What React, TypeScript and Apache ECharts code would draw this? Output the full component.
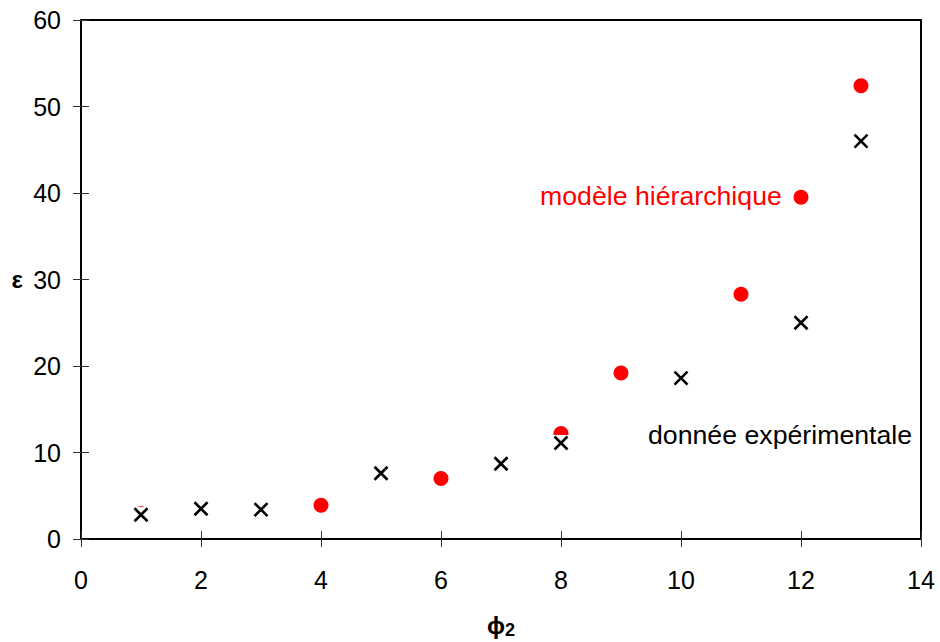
import React, { useEffect, useRef } from "react";
import * as echarts from "echarts";

const expX = [1, 2, 3, 5, 7, 8, 10, 12, 13];
const expY = [2.8, 3.5, 3.4, 7.6, 8.7, 11.1, 18.6, 25.0, 46.0];
const modX = [1, 4, 6, 8, 9, 11, 12, 13];
const modY = [2.95, 3.9, 7.0, 12.2, 19.2, 28.3, 39.5, 52.4];
const xTicks = [0, 2, 4, 6, 8, 10, 12, 14];
const yTicks = [0, 10, 20, 30, 40, 50, 60];
const modLabel = "modèle hiérarchique";
const expLabel = "donnée expérimentale";

const FONT = "'Liberation Sans', Arial, sans-serif";

export default function App() {
  const ref = useRef<HTMLDivElement>(null);
  useEffect(() => {
    const chart = echarts.init(ref.current!, null, { renderer: "svg" });
    const expData = expX.map((x, i) => [x, expY[i]]);
    const modData = modX.map((x, i) => [x, modY[i]]);
    const xBase = {
      type: "value",
      min: xTicks[0],
      max: xTicks[xTicks.length - 1],
      interval: 2,
      position: "bottom",
      splitLine: { show: false },
    };
    const yBase = {
      type: "value",
      min: yTicks[0],
      max: yTicks[yTicks.length - 1],
      interval: 10,
      position: "left",
      splitLine: { show: false },
    };
    chart.setOption({
      animation: false,
      backgroundColor: "#fff",
      grid: {
        left: 81,
        right: 19,
        top: 20,
        bottom: 103,
        outerBoundsMode: "none",
        containLabel: false,
        show: true,
        borderColor: "#000",
        borderWidth: 2,
        backgroundColor: "transparent",
      },
      xAxis: [
        {
          ...xBase,
          axisLine: { show: true, lineStyle: { color: "#000", width: 2 } },
          axisTick: { show: true, length: 8, lineStyle: { color: "#333", width: 1 } },
          axisLabel: { color: "#000", fontSize: 25, fontFamily: FONT, margin: 28 },
          name: "ϕ{s|2}",
          nameLocation: "middle",
          nameGap: 72,
          nameTextStyle: {
            color: "#000",
            fontSize: 24,
            fontWeight: "bold",
            fontFamily: FONT,
            rich: { s: { fontSize: 18, fontWeight: "bold", fontFamily: FONT, color: "#000", padding: [10, 0, 0, 0] } },
          },
        },
        {
          ...xBase,
          axisLine: { show: false },
          axisTick: { show: true, inside: true, length: 8, lineStyle: { color: "#333", width: 1 } },
          axisLabel: { show: false },
        },
      ],
      yAxis: [
        {
          ...yBase,
          axisLine: { show: true, lineStyle: { color: "#000", width: 2 } },
          axisTick: { show: true, length: 8, lineStyle: { color: "#333", width: 1 } },
          axisLabel: { color: "#000", fontSize: 25, fontFamily: FONT, margin: 20 },
          name: "ε",
          nameLocation: "middle",
          nameRotate: 0,
          nameGap: 58,
          nameTextStyle: { color: "#000", fontSize: 24, fontWeight: "bold", fontFamily: FONT, padding: [6, 0, 0, 0] },
        },
        {
          ...yBase,
          axisLine: { show: false },
          axisTick: { show: true, inside: true, length: 8, lineStyle: { color: "#333", width: 1 } },
          axisLabel: { show: false },
        },
      ],
      series: [
        {
          type: "scatter",
          data: modData,
          symbol: "circle",
          symbolSize: 15,
          itemStyle: { color: "#ff0000", opacity: 1 },
          z: 2,
        },
        {
          type: "scatter",
          data: expData,
          symbol: "rect",
          symbolSize: 16,
          itemStyle: { color: "#fff", opacity: 1 },
          z: 3,
        },
        {
          type: "scatter",
          data: expData,
          symbol: "path://M0,0L10,10M10,0L0,10",
          symbolSize: 13,
          itemStyle: { color: "none", borderColor: "#000", borderWidth: 2.6, opacity: 1 },
          z: 4,
        },
      ],
      graphic: [
        {
          type: "text",
          left: 540,
          top: 182,
          style: { text: modLabel, fill: "#ff0000", fontSize: 26.7, fontFamily: FONT },
        },
        {
          type: "text",
          left: 648,
          top: 421,
          style: { text: expLabel, fill: "#000", fontSize: 26.7, fontFamily: FONT },
        },
      ],
    });
    return () => chart.dispose();
  }, []);
  return <div ref={ref} style={{ width: 940, height: 642, position: "absolute", left: 0, top: 0 }} />;
}
